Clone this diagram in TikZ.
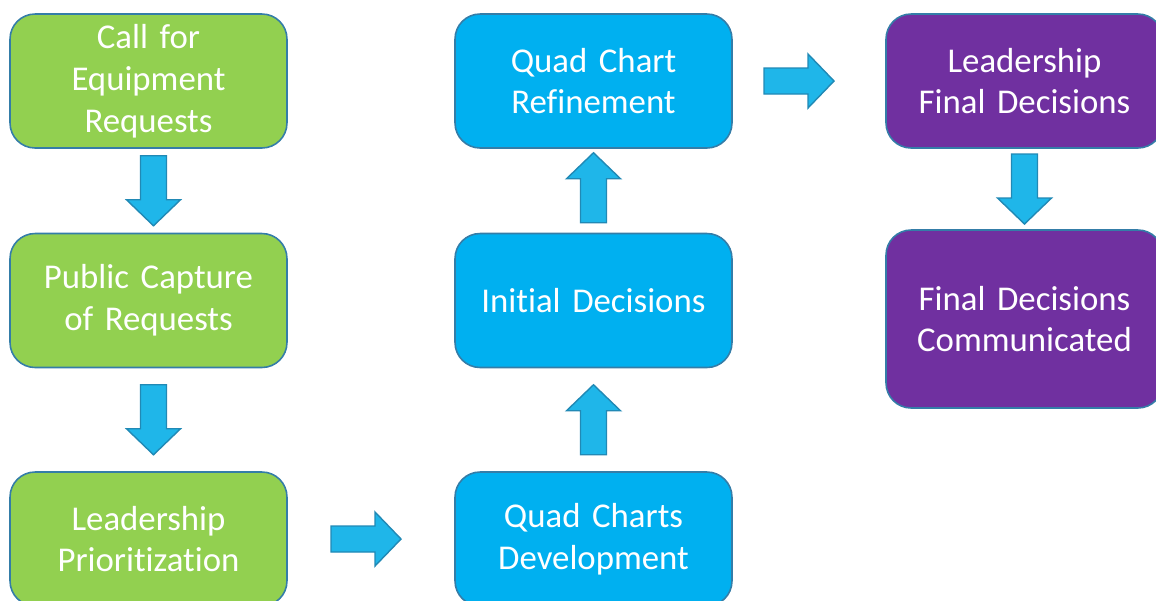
\documentclass[tikz,border=0pt]{standalone}
\usepackage{fontspec}
\setmainfont[Ligatures=NoCommon, WordSpace=0.7]{Carlito}
\usepackage{tikz}
\definecolor{stepGreen}{RGB}{146, 208, 80}
\definecolor{stepBlue}{RGB}{0, 176, 240}
\definecolor{stepPurple}{RGB}{112, 48, 160}
\definecolor{stepEdge}{RGB}{52, 125, 168}
\definecolor{arrowFill}{RGB}{31, 182, 233}
\definecolor{arrowEdge}{RGB}{33, 137, 181}
\usetikzlibrary{calc, positioning}

\tikzset{
  stepbox/.style={draw=stepEdge, line width=0.9pt, rounded corners=0.5cm,
    minimum width=5.54cm, minimum height=2.68cm, inner sep=0pt,
    text width=5.3cm, align=center, text=white,
    font=\fontsize{19.8}{23.8}\selectfont},
  pics/blockarrow/.style={code={
    \draw[fill=arrowFill, draw=arrowEdge, line width=0.8pt]
      (-35,-13) -- (9,-13) -- (9,-27) -- (35,0) -- (9,27) -- (9,13) -- (-35,13) -- cycle;
  }}
}

\begin{document}
\begin{tikzpicture}[x=0.02cm, y=-0.02cm]
        \useasboundingbox (0,0) rectangle (1156,600);
        \clip (0,0) rectangle (1156,600);
        % left column
        \node[stepbox, fill=stepGreen] (call) at (148.5,81) {Call for\\Equipment\\Requests};
        \node[stepbox, fill=stepGreen] (capture) at (148.5,300.5) {Public Capture\\of Requests};
        \node[stepbox, fill=stepGreen] (prio) at (148.5,539) {Leadership\\Prioritization};
        % middle column
        \node[stepbox, fill=stepBlue] (dev) at (593.5,539) {Quad Charts\\Development};
        \node[stepbox, fill=stepBlue] (initial) at (593.5,300.5) {Initial Decisions};
        \node[stepbox, fill=stepBlue] (refine) at (593.5,81) {Quad Chart\\Refinement};
        % right column
        \node[stepbox, fill=stepPurple] (final) at (1024.5,81) {Leadership\\Final Decisions};
        \node[stepbox, fill=stepPurple, minimum height=3.56cm] (comm) at (1024.5,319) {Final Decisions\\Communicated};
        % block arrows
        \pic[rotate=-90] at ($(call.south)!0.5!(capture.north)+(5,0)$) {blockarrow};
        \pic[rotate=-90] at ($(capture.south)!0.5!(prio.north)+(5,0)$) {blockarrow};
        \pic at ($(prio.east)!0.5!(dev.west)+(-5,0)$) {blockarrow};
        \pic[rotate=90] at ($(dev.north)!0.5!(initial.south)$) {blockarrow};
        \pic[rotate=90] at ($(initial.north)!0.5!(refine.south)+(0,-3)$) {blockarrow};
        \pic at ($(refine.east)!0.5!(final.west)+(-10,0)$) {blockarrow};
        \pic[rotate=-90] at ($(final.south)!0.5!(comm.north)$) {blockarrow};
    \end{tikzpicture}
\end{document}
